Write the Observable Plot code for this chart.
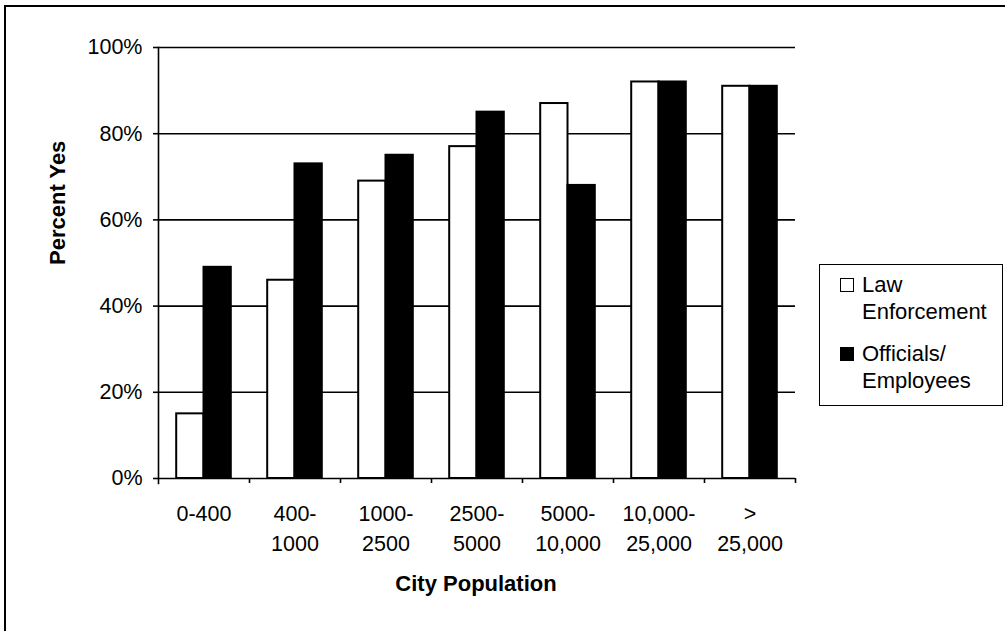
<!DOCTYPE html>
<html>
<head>
<meta charset="utf-8">
<script src="https://cdn.jsdelivr.net/npm/d3@7"></script>
<script src="https://cdn.jsdelivr.net/npm/@observablehq/plot@0.6"></script>
<style>
  html, body { margin: 0; padding: 0; background: #fff; }
  body { width: 1005px; height: 631px; position: relative; overflow: hidden;
         font-family: "Liberation Sans", Arial, Helvetica, sans-serif; color: #000; }
  #frame { position: absolute; left: 4px; top: 5px; right: 0; bottom: 0;
           border-top: 2px solid #000; border-left: 2px solid #000; }
  #chart { position: absolute; left: 0; top: 0; }
  #legend { position: absolute; left: 819px; top: 264px; width: 182px; height: 140px;
            border: 1.5px solid #000; background: #fff; }
  .item { position: absolute; left: 0; width: 100%; }
  .swatch { position: absolute; left: 20px; top: 7px; width: 14px; height: 14px;
            box-sizing: border-box; border: 1.8px solid #000; }
  .label { position: absolute; left: 42px; top: 0; font-size: 22px; line-height: 27px;
           white-space: pre; }
</style>
</head>
<body>
<div id="frame"></div>
<div id="chart"></div>
<div id="legend"></div>
<script>
// Survey share answering "yes", by city population bracket
const categories = ["0-400", "400-\n1000", "1000-\n2500", "2500-\n5000", "5000-\n10,000", "10,000-\n25,000", ">\n25,000"];
const seriesNames = ["Law\nEnforcement", "Officials/\nEmployees"];
const seriesFills = ["#ffffff", "#000000"];
const lawEnforcement = [15, 46, 69, 77, 87, 92, 91];
const officialsEmployees = [49, 73, 75, 85, 68, 92, 91];
const yTicks = [0, 20, 40, 60, 80, 100];
const xTitle = "City Population";
const yTitle = "Percent Yes";

const rows = categories.map((category, i) => ({
  category,
  law: lawEnforcement[i],
  officials: officialsEmployees[i]
}));

// Layout
const W = 1005, H = 631;
const mL = 158, mR = 210, mT = 47, mB = 153;
const bandW = (W - mL - mR) / categories.length;
const barW = bandW * 0.3;
const outer = (bandW - 2 * barW) / 2;
const font = '"Liberation Sans", Arial, Helvetica, sans-serif';

const chart = Plot.plot({
  width: W,
  height: H,
  marginLeft: mL,
  marginRight: mR,
  marginTop: mT,
  marginBottom: mB,
  style: { fontFamily: font, fontSize: "21px", color: "#000", background: "transparent", overflow: "visible" },
  x: { domain: categories, padding: 0 },
  y: { domain: [0, 100] },
  marks: [
    // horizontal gridlines (0% doubles as the category axis line)
    Plot.ruleY(yTicks, { stroke: "#000", strokeWidth: 1.6 }),
    // paired bars inside each population band
    Plot.barY(rows, {
      x: "category", y: "law",
      fill: seriesFills[0], stroke: "#000", strokeWidth: 2,
      insetLeft: outer, insetRight: outer + barW
    }),
    Plot.barY(rows, {
      x: "category", y: "officials",
      fill: seriesFills[1], stroke: "#000", strokeWidth: 2,
      insetLeft: outer + barW, insetRight: outer
    }),
    // value axis line
    Plot.frame({ anchor: "left", insetBottom: -5, stroke: "#000", strokeWidth: 1.6 }),
    Plot.axisY({
      ticks: yTicks, tickFormat: d => d + "%",
      tickSize: 5, tickPadding: 11, fontSize: 21.5, label: null,
      stroke: "#000", strokeWidth: 1.6
    }),
    // tick marks on the boundaries between bands
    Plot.axisX({ tickSize: 5, fill: "none", dx: bandW / 2, label: null, stroke: "#000", strokeWidth: 1.6 }),
    // category labels
    Plot.text(categories, {
      x: d => d, frameAnchor: "bottom", lineAnchor: "top",
      dy: 22, lineHeight: 1.37, fontSize: 21.5, fill: "#000"
    }),
    // axis titles
    Plot.text([xTitle], {
      frameAnchor: "bottom", lineAnchor: "top", dy: 97, dx: -1,
      fontWeight: "bold", fontSize: 22, fill: "#000"
    }),
    Plot.text([yTitle], {
      frameAnchor: "left", dx: -101, dy: 2, rotate: -90,
      fontWeight: "bold", fontSize: 22, fill: "#000"
    })
  ]
});
document.getElementById("chart").append(chart);

// Legend
const legend = document.getElementById("legend");
seriesNames.forEach((name, i) => {
  const item = document.createElement("div");
  item.className = "item";
  item.style.top = (6 + i * 69) + "px";
  const sw = document.createElement("div");
  sw.className = "swatch";
  sw.style.background = seriesFills[i];
  const label = document.createElement("div");
  label.className = "label";
  label.textContent = name;
  item.append(sw, label);
  legend.append(item);
});
</script>
</body>
</html>
